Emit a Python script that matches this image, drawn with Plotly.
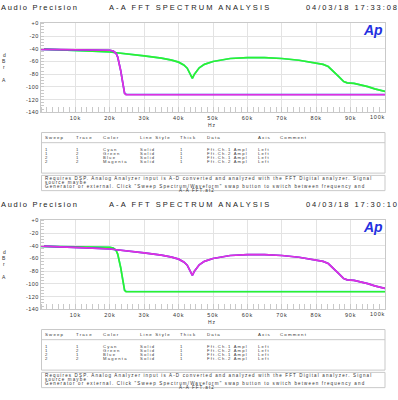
import plotly.graph_objects as go

# ---------------- data (frequency in Hz, level in dBr A) ----------------
broad_freq = [20, 5000, 10000, 15000, 20000, 25000, 30000, 35000, 38000, 40000,
              41500, 42500, 43300, 44000, 44600, 45300, 46000, 47500, 50000, 55000,
              60000, 65000, 70000, 75000, 80000, 82000, 83500, 85000, 86500, 88000,
              89000, 91000, 93000, 95000, 97000, 99000, 100000]
broad_db = [-40.5, -41.2, -42.3, -43.5, -45.0, -47.5, -51.0, -54.8, -57.8, -61.0,
            -65.5, -70.5, -78.0, -86.5, -80.0, -74.0, -70.0, -64.5, -60.0, -55.3,
            -53.8, -53.8, -55.3, -58.0, -62.0, -64.5, -68.0, -75.0, -83.5, -91.5,
            -93.5, -94.5, -96.5, -99.5, -103.0, -106.0, -107.0]

narrow_freq = [20, 5000, 10000, 15000, 20000, 21000, 21800, 22300, 22800, 23200,
               23600, 24000, 24300, 24700, 30000, 40000, 50000, 60000, 70000,
               80000, 90000, 100000]
narrow_db_ch2 = [-40.8, -41.0, -41.3, -41.8, -42.3, -43.5, -47.0, -53.0, -63.0, -75.0,
                 -88.0, -102.0, -110.0, -112.0, -112.0, -112.2, -112.0, -112.2, -112.0,
                 -112.3, -112.0, -112.3]
narrow_db_ch1 = [-40.8, -41.0, -41.3, -41.8, -42.3, -43.5, -47.0, -53.0, -63.0, -75.0,
                 -88.0, -102.0, -110.0, -111.6, -111.6, -111.8, -111.6, -111.8, -111.6,
                 -111.9, -111.6, -111.9]

x_tick_vals = [10000, 20000, 30000, 40000, 50000, 60000, 70000, 80000, 90000]
x_tick_text = ["10k", "20k", "30k", "40k", "50k", "60k", "70k", "80k", "90k"]
y_tick_vals = [0, -20, -40, -60, -80, -100, -120, -140]
y_tick_text = ["+0", "-20", "-40", "-60", "-80", "-100", "-120", "-140"]

panel_times = ["04/03/18 17:33:08", "04/03/18 17:30:10"]

tbl_header = ["Sweep", "Trace", "Color", "Line Style", "Thick", "Data", "Axis", "Comment"]
tbl_sweep = ["1", "1", "2", "2"]
tbl_trace = ["1", "2", "1", "2"]
tbl_color = ["Cyan", "Green", "Blue", "Magenta"]
tbl_style = ["Solid", "Solid", "Solid", "Solid"]
tbl_thick = ["1", "1", "1", "1"]
tbl_data = ["Fft.Ch.1 Ampl", "Fft.Ch.2 Ampl", "Fft.Ch.1 Ampl", "Fft.Ch.2 Ampl"]
tbl_axis = ["Left", "Left", "Left", "Left"]

note_lines = [
    "Requires DSP. Analog Analyzer input is A-D converted and analyzed with the FFT Digital analyzer. Signal",
    "source maybe",
    "Generator or external. Click \"Sweep Spectrum/Waveform\" swap button to switch between frequency and",
]
file_name = "A-A FFT.at2"

# ---------------- styling ----------------
W, H = 398, 400
FONT = "Liberation Sans"
C_CYAN, C_GREEN, C_BLUE, C_MAG = "#2de0e0", "#2ef02e", "#3030e8", "#e030e0"
GRID = "#e3e3e3"
BORDER = "#c9c9c9"
TXT = "#333333"

def px(x):
    return x / W

def py(y):
    return 1 - y / H

def sp(text, ls):
    return f'<span style="letter-spacing:{ls}px">{text}</span>'

fig = go.Figure()

panels = [
    ("x", "y", 0, [(broad_freq, broad_db, C_CYAN), (broad_freq, broad_db, C_GREEN),
                   (narrow_freq, narrow_db_ch1, C_BLUE), (narrow_freq, narrow_db_ch2, C_MAG)]),
    ("x2", "y2", 200, [(narrow_freq, narrow_db_ch1, C_CYAN), (narrow_freq, narrow_db_ch2, C_GREEN),
                       (broad_freq, broad_db, C_BLUE), (broad_freq, broad_db, C_MAG)]),
]

for xa, ya, off, series in panels:
    for f, d, c in series:
        fig.add_trace(go.Scatter(x=f, y=d, mode="lines", xaxis=xa, yaxis=ya,
                                 line=dict(color=c, width=1.7), showlegend=False,
                                 hoverinfo="skip"))

def xaxis_cfg(anchor):
    return dict(
        domain=[px(41), px(385)], anchor=anchor, range=[0, 100000],
        showgrid=True, gridcolor=GRID, gridwidth=1, zeroline=False,
        showline=True, mirror=True, linecolor=BORDER, linewidth=1,
        tickmode="array", tickvals=x_tick_vals,
        ticktext=[sp(t, 0.8) for t in x_tick_text], ticks="",
        tickfont=dict(family=FONT, size=5.5, color=TXT),
        minor=dict(tickmode="linear", tick0=0, dtick=10000 / 6, ticks="inside",
                   ticklen=5, tickcolor=BORDER, tickwidth=1, showgrid=False),
    )

def yaxis_cfg(anchor, top, bottom):
    return dict(
        domain=[py(bottom), py(top)], anchor=anchor, range=[-140, 0],
        showgrid=True, gridcolor=GRID, gridwidth=1, zeroline=False,
        showline=True, mirror=True, linecolor=BORDER, linewidth=1,
        tickmode="array", tickvals=y_tick_vals,
        ticktext=[sp(t, 0.5) for t in y_tick_text], ticks="",
        tickfont=dict(family=FONT, size=5.5, color=TXT),
        minor=dict(tickmode="linear", tick0=0, dtick=5, ticks="inside",
                   ticklen=3, tickcolor=BORDER, tickwidth=1, showgrid=False),
    )

annotations = []
shapes = []

def ann(text, x, y, size, xanchor="left", color=TXT, ls=None, **font_extra):
    t = sp(text, ls) if ls else text
    annotations.append(dict(
        text=t, x=px(x), y=py(y), xref="paper", yref="paper",
        xanchor=xanchor, yanchor="middle", showarrow=False, borderpad=0,
        font=dict(family=FONT, size=size, color=color, **font_extra)))

def hline(x0, x1, y):
    shapes.append(dict(type="line", xref="paper", yref="paper",
                       x0=px(x0), x1=px(x1), y0=py(y), y1=py(y),
                       line=dict(color=BORDER, width=1)))

def rect(x0, x1, y0, y1):
    shapes.append(dict(type="rect", xref="paper", yref="paper",
                       x0=px(x0), x1=px(x1), y0=py(y0), y1=py(y1),
                       line=dict(color=BORDER, width=1), fillcolor="rgba(0,0,0,0)"))

col_x = [43.5, 75, 101.5, 139, 179, 206, 257, 279]
row_y = [148.5, 152.8, 157.1, 161.4]

for i, (xa, ya, off, _) in enumerate(panels):
    ann("Audio Precision", 0, 5 + off, 7.5, ls=1.7, color="#222")
    ann("A-A FFT SPECTRUM ANALYSIS", 108, 5 + off, 7.5, ls=2.1, color="#222")
    ann(panel_times[i], 305, 5 + off, 7.5, ls=1.9, color="#222")
    ann("<b><i>Ap</i></b>", 373, 27 + off, 14, xanchor="center", color="#2430e0")
    for ch, yy in zip(["d", "B", "r", "A"], [53, 58.5, 65, 78]):
        ann(ch, 4, yy + off, 5, xanchor="center")
    ann("Hz", 212, 124 + off, 5, xanchor="center", ls=0.8)
    ann("100k", 377, 116 + off, 5.5, xanchor="center", ls=0.8)
    rect(41.5, 385, 131.5 + off, 172.7 + off)
    hline(41.5, 385, 141.8 + off)
    for h, cx in zip(tbl_header, col_x):
        ann(h, cx, 136.7 + off, 4.4, ls=1.15)
    cols = [tbl_sweep, tbl_trace, tbl_color, tbl_style, tbl_thick, tbl_data, tbl_axis]
    for r in range(4):
        for c, vals in enumerate(cols):
            ann(vals[r], col_x[c], row_y[r] + off, 4.2, ls=1.2, color="#3a3a3a")
    rect(41.5, 385, 175 + off, 190.5 + off)
    for line, yy in zip(note_lines, [178.5, 182.6, 186.8]):
        ann(line, 43.5, yy + off, 4.5, ls=1.15)
    ann(file_name, 197, 190.8 + off, 4.5, xanchor="center", ls=1.1)

fig.update_layout(
    width=W, height=H, margin=dict(l=0, r=0, t=0, b=0),
    paper_bgcolor="white", plot_bgcolor="white",
    showlegend=False,
    xaxis=xaxis_cfg("y"), yaxis=yaxis_cfg("x", 20.7, 111),
    xaxis2=xaxis_cfg("y2"), yaxis2=yaxis_cfg("x2", 220.7, 311),
    annotations=annotations, shapes=shapes,
)

fig.write_html(
    "out.html",
    config={"displayModeBar": False},
    post_script="document.body.style.margin='0';document.body.style.overflow='hidden';",
)
